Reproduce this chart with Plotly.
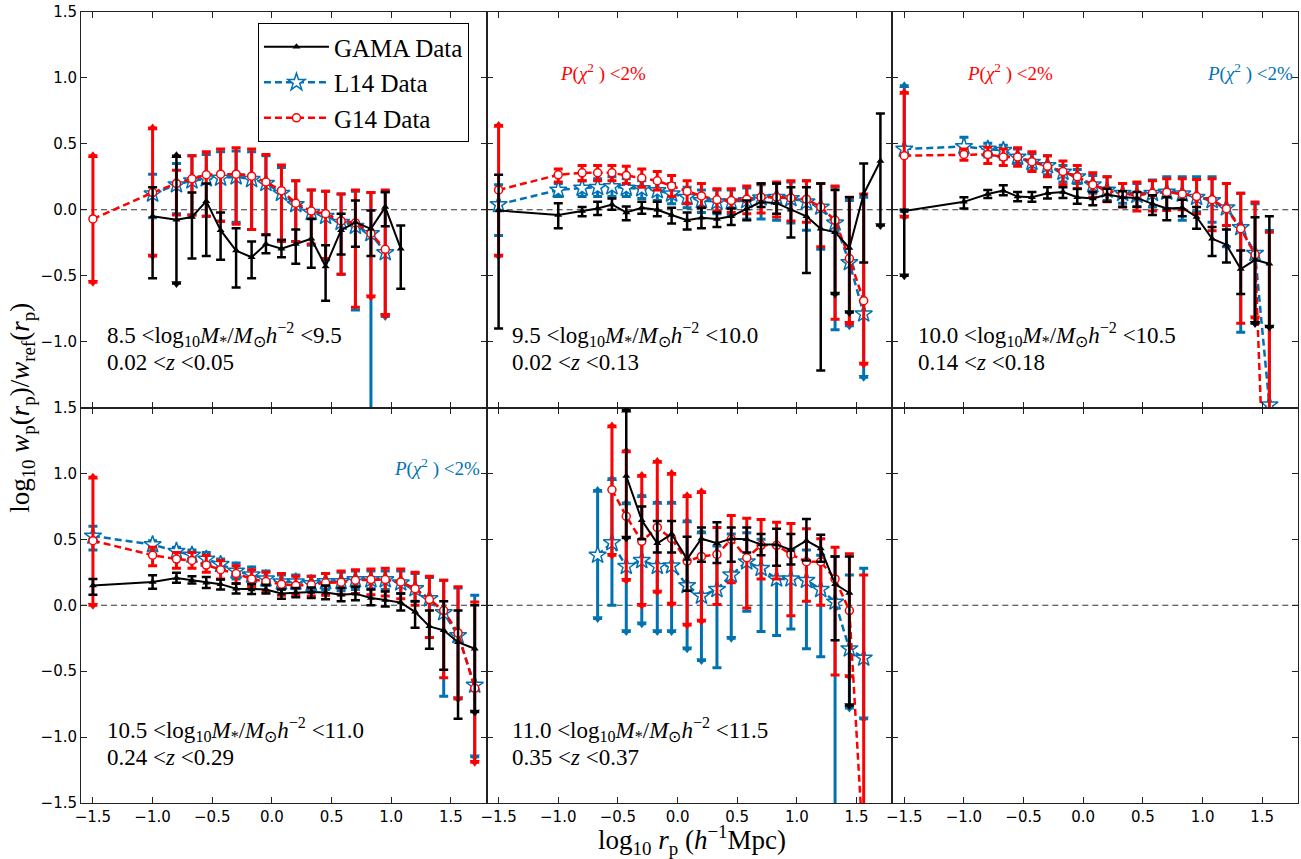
import plotly.graph_objects as go
from plotly.subplots import make_subplots

N = None
# common log10 rp bin centres
X = [-1.5, -1.0, -0.8, -0.67, -0.55, -0.43, -0.3, -0.17, -0.05, 0.08, 0.2, 0.33,
     0.45, 0.58, 0.7, 0.83, 0.95, 1.08, 1.2, 1.32, 1.44, 1.56, 1.7]

XTICKS = [-1.5, -1.0, -0.5, 0.0, 0.5, 1.0, 1.5]
YTICKS = [-1.5, -1.0, -0.5, 0.0, 0.5, 1.0, 1.5]

# ---------------- Panel 1 ----------------
P1_GAMA_Y  = [N, -0.05, -0.075, -0.055, 0.065, -0.155, -0.31, -0.36, -0.26, -0.295, -0.26, -0.22, -0.43, -0.155, -0.095, -0.145, 0.02, -0.295, N, N, N, N, N]
P1_GAMA_HI = [N, 0.17, 0.41, 0.13, 0.2, -0.02, -0.14, -0.24, -0.19, -0.23, -0.15, -0.07, -0.27, -0.03, 0.07, -0.005, 0.135, -0.12, N, N, N, N, N]
P1_GAMA_LO = [N, -0.52, -0.56, -0.37, -0.35, -0.38, -0.59, -0.52, -0.33, -0.36, -0.41, -0.44, -0.69, -0.34, -0.28, -0.35, -0.125, -0.60, N, N, N, N, N]
P1_GAMA_UP = [2]
P1_GAMA_DN = [2]

P1_L14_Y  = [N, 0.12, 0.19, 0.22, 0.235, 0.24, 0.25, 0.23, 0.20, 0.125, 0.04, -0.02, -0.05, -0.095, -0.125, -0.18, -0.325, N, N, N, N, N, N]
P1_L14_HI = [N, 0.27, 0.35, 0.41, 0.42, 0.44, 0.445, 0.44, 0.41, 0.32, 0.22, 0.15, 0.14, 0.12, 0.14, 0.13, 0.135, N, N, N, N, N, N]
P1_L14_LO = [N, -0.06, -0.03, -0.04, -0.05, -0.085, -0.095, -0.15, -0.19, -0.23, -0.24, -0.27, -0.38, -0.49, -0.76, -2.5, -0.81, N, N, N, N, N, N]
P1_L14_UP = []
P1_L14_DN = [16]

P1_G14_Y  = [-0.07, 0.13, 0.20, 0.235, 0.265, 0.27, 0.27, 0.255, 0.21, 0.145, 0.05, -0.01, -0.03, -0.085, -0.10, -0.18, -0.30, N, N, N, N, N, N]
P1_G14_HI = [0.41, 0.62, 0.30, 0.41, 0.44, 0.46, 0.47, 0.46, 0.42, 0.34, 0.22, 0.15, 0.14, 0.12, 0.15, 0.13, 0.15, N, N, N, N, N, N]
P1_G14_LO = [-0.55, -0.35, -0.04, -0.04, -0.05, -0.09, -0.11, -0.15, -0.19, -0.24, -0.24, -0.26, -0.37, -0.49, -0.74, -0.66, -0.80, N, N, N, N, N, N]
P1_G14_UP = [0, 1]
P1_G14_DN = [0, 1, 15, 16]

# ---------------- Panel 2 ----------------
P2_GAMA_Y  = [-0.005, -0.04, -0.01, 0.01, 0.04, -0.02, 0.015, 0.0, -0.04, -0.08, -0.06, -0.07, -0.05, 0.01, 0.06, 0.05, 0.0, -0.05, -0.145, -0.17, -0.29, 0.12, 0.37]
P2_GAMA_HI = [0.265, 0.05, 0.02, 0.06, 0.085, 0.025, 0.06, 0.06, 0.015, -0.02, 0.015, -0.02, 0.01, 0.07, 0.2, 0.2, 0.17, 0.17, 0.2, 0.15, 0.095, 0.35, 0.73]
P2_GAMA_LO = [-0.9, -0.14, -0.05, -0.04, 0.0, -0.08, -0.03, -0.05, -0.105, -0.15, -0.14, -0.13, -0.115, -0.08, 0.02, -0.03, -0.21, -0.48, -1.22, -0.64, -0.78, -0.40, -0.12]
P2_GAMA_UP = []
P2_GAMA_DN = [19, 20, 22]

P2_L14_Y  = [0.04, 0.15, 0.165, 0.17, 0.175, 0.165, 0.16, 0.145, 0.12, 0.095, 0.07, 0.06, 0.06, 0.07, 0.09, 0.095, 0.085, 0.06, 0.02, -0.10, -0.40, -0.79, N]
P2_L14_HI = [0.19, 0.2, 0.22, 0.235, 0.25, 0.235, 0.22, 0.21, 0.2, 0.17, 0.15, 0.15, 0.15, 0.165, 0.19, 0.2, 0.21, 0.22, 0.2, 0.17, 0.07, 0.095, N]
P2_L14_LO = [-0.195, 0.1, 0.1, 0.1, 0.1, 0.1, 0.085, 0.07, 0.045, 0.015, -0.02, -0.03, -0.04, -0.07, -0.07, -0.08, -0.1, -0.155, -0.30, -0.91, -0.88, -1.27, N]
P2_L14_UP = []
P2_L14_DN = [20, 21]

P2_G14_Y  = [0.15, 0.265, 0.28, 0.28, 0.28, 0.26, 0.24, 0.22, 0.18, 0.14, 0.105, 0.075, 0.07, 0.08, 0.095, 0.095, 0.09, 0.08, 0.02, -0.08, -0.37, -0.69, N]
P2_G14_HI = [0.64, 0.31, 0.335, 0.335, 0.335, 0.33, 0.31, 0.29, 0.26, 0.22, 0.2, 0.16, 0.16, 0.18, 0.2, 0.21, 0.22, 0.22, 0.2, 0.18, 0.095, 0.12, N]
P2_G14_LO = [-0.35, 0.21, 0.22, 0.22, 0.22, 0.2, 0.17, 0.15, 0.1, 0.045, 0.015, -0.01, -0.02, -0.03, -0.025, -0.055, -0.085, -0.095, -0.28, -0.83, -0.86, -1.17, N]
P2_G14_UP = [0]
P2_G14_DN = [0, 20, 21]

# ---------------- Panel 3 ----------------
P3_GAMA_Y  = [-0.01, 0.06, 0.12, 0.145, 0.10, 0.095, 0.125, 0.135, 0.095, 0.085, 0.115, 0.095, 0.09, 0.045, 0.01, 0.015, -0.055, -0.22, -0.265, -0.45, -0.38, -0.41, N]
P3_GAMA_HI = [0.0, 0.095, 0.15, 0.185, 0.135, 0.135, 0.17, 0.17, 0.16, 0.135, 0.16, 0.14, 0.135, 0.11, 0.095, 0.075, 0.02, -0.13, -0.15, -0.31, -0.056, -0.05, N]
P3_GAMA_LO = [-0.5, 0.01, 0.09, 0.11, 0.065, 0.06, 0.085, 0.09, 0.045, 0.035, 0.06, 0.02, 0.02, -0.04, -0.08, -0.05, -0.145, -0.35, -0.40, -0.64, -0.86, -0.89, N]
P3_GAMA_UP = []
P3_GAMA_DN = [0, 20, 21]

P3_L14_Y  = [0.46, 0.48, 0.46, 0.45, 0.40, 0.36, 0.335, 0.285, 0.25, 0.19, 0.15, 0.125, 0.11, 0.125, 0.135, 0.12, 0.095, 0.07, 0.015, -0.135, -0.33, -1.48, N]
P3_L14_HI = [0.94, 0.55, 0.505, 0.49, 0.46, 0.425, 0.41, 0.335, 0.305, 0.26, 0.25, 0.2, 0.2, 0.225, 0.25, 0.25, 0.25, 0.25, 0.2, 0.125, 0.045, -0.157, N]
P3_L14_LO = [-0.01, 0.42, 0.40, 0.385, 0.35, 0.295, 0.265, 0.21, 0.2, 0.125, 0.07, 0.05, 0.025, 0.02, 0.01, -0.08, -0.015, -0.095, -0.28, -0.93, -0.86, -5.0, N]
P3_L14_UP = [0]
P3_L14_DN = [0, 20]

P3_G14_Y  = [0.41, 0.42, 0.42, 0.40, 0.40, 0.365, 0.33, 0.29, 0.25, 0.19, 0.145, 0.12, 0.115, 0.125, 0.133, 0.12, 0.10, 0.076, 0.008, -0.144, -0.34, -3.2, N]
P3_G14_HI = [0.89, 0.46, 0.475, 0.46, 0.47, 0.44, 0.41, 0.37, 0.335, 0.28, 0.25, 0.2, 0.21, 0.22, 0.235, 0.235, 0.23, 0.235, 0.2, 0.126, 0.058, -0.17, N]
P3_G14_LO = [-0.055, 0.375, 0.35, 0.335, 0.33, 0.29, 0.25, 0.19, 0.16, 0.095, 0.06, 0.02, -0.01, -0.01, -0.005, 0.0, -0.03, -0.16, -0.12, -0.86, -0.82, -5.0, N]
P3_G14_UP = [0]
P3_G14_DN = [0, 20]

# ---------------- Panel 4 ----------------
P4_GAMA_Y  = [0.15, 0.177, 0.207, 0.19, 0.17, 0.16, 0.126, 0.12, 0.12, 0.09, 0.096, 0.10, 0.096, 0.08, 0.088, 0.055, 0.04, 0.02, -0.05, -0.16, -0.19, -0.28, -0.33]
P4_GAMA_HI = [0.2, 0.227, 0.247, 0.22, 0.215, 0.195, 0.165, 0.16, 0.155, 0.12, 0.13, 0.135, 0.15, 0.13, 0.14, 0.12, 0.105, 0.09, 0.03, -0.04, 0.03, -0.04, 0.0]
P4_GAMA_LO = [0.08, 0.126, 0.17, 0.165, 0.13, 0.12, 0.09, 0.085, 0.09, 0.05, 0.06, 0.055, 0.045, 0.03, 0.038, 0.0, -0.01, -0.04, -0.17, -0.33, -0.49, -0.86, -0.81]
P4_GAMA_UP = []
P4_GAMA_DN = [22]

P4_L14_Y  = [0.525, 0.46, 0.41, 0.38, 0.35, 0.31, 0.26, 0.23, 0.2, 0.177, 0.177, 0.164, 0.18, 0.18, 0.194, 0.194, 0.194, 0.17, 0.126, 0.05, -0.056, -0.23, -0.606]
P4_L14_HI = [0.60, 0.49, 0.44, 0.42, 0.40, 0.35, 0.32, 0.29, 0.26, 0.23, 0.23, 0.22, 0.24, 0.25, 0.26, 0.26, 0.26, 0.26, 0.24, 0.21, 0.19, 0.13, 0.076]
P4_L14_LO = [0.42, 0.42, 0.37, 0.34, 0.30, 0.27, 0.2, 0.17, 0.15, 0.126, 0.126, 0.11, 0.12, 0.11, 0.12, 0.126, 0.12, 0.09, 0.03, -0.245, -0.69, -0.71, -1.15]
P4_L14_UP = []
P4_L14_DN = [21, 22]

P4_G14_Y  = [0.49, 0.38, 0.35, 0.34, 0.305, 0.27, 0.24, 0.2, 0.18, 0.16, 0.15, 0.155, 0.17, 0.175, 0.19, 0.195, 0.195, 0.177, 0.126, 0.043, -0.04, -0.21, -0.63]
P4_G14_HI = [0.97, 0.44, 0.40, 0.40, 0.38, 0.34, 0.30, 0.27, 0.25, 0.24, 0.22, 0.22, 0.24, 0.26, 0.27, 0.275, 0.28, 0.275, 0.25, 0.22, 0.19, 0.14, 0.025]
P4_G14_LO = [0.0, 0.30, 0.28, 0.28, 0.25, 0.20, 0.165, 0.14, 0.10, 0.075, 0.075, 0.07, 0.075, 0.08, 0.09, 0.08, 0.07, 0.05, 0.0, -0.245, -0.55, -0.71, -1.19]
P4_G14_UP = [0]
P4_G14_DN = [0, 21, 22]

# ---------------- Panel 5 ----------------
P5_GAMA_Y  = [N, N, N, N, N, 0.98, 0.645, 0.47, 0.54, 0.35, 0.505, 0.47, 0.505, 0.50, 0.46, 0.46, 0.42, 0.49, 0.43, 0.16, 0.093, N, N]
P5_GAMA_HI = [N, N, N, N, N, 1.48, 0.75, 0.64, 0.64, 0.52, 0.59, 0.63, 0.59, 0.59, 0.54, 0.58, 0.54, 0.655, 0.535, 0.37, 0.37, N, N]
P5_GAMA_LO = [N, N, N, N, N, 0.51, 0.50, 0.40, 0.40, 0.11, 0.33, 0.32, 0.33, 0.40, 0.38, 0.30, 0.31, 0.34, 0.33, -0.265, -0.76, N, N]
P5_GAMA_UP = [5]
P5_GAMA_DN = [5, 20]

P5_L14_Y  = [N, N, N, 0.38, 0.475, 0.295, 0.34, 0.295, 0.30, 0.15, 0.07, 0.12, 0.23, 0.33, 0.28, 0.2, 0.2, 0.19, 0.12, 0.025, -0.33, -0.40, N]
P5_L14_HI = [N, N, N, 0.87, 0.96, 0.775, 0.83, 0.78, 0.78, 0.64, 0.555, 0.45, 0.54, 0.55, 0.5, 0.45, 0.42, 0.42, 0.38, 0.37, 0.23, 0.28, N]
P5_L14_LO = [N, N, N, -0.10, 0.0, -0.2, -0.14, -0.2, -0.2, -0.33, -0.42, -0.475, -0.25, -0.045, -0.2, -0.23, -0.18, -0.33, -0.39, -2.5, -0.78, -0.86, N]
P5_L14_UP = [3, 4, 5, 6, 7, 8, 9, 10]
P5_L14_DN = [3, 5, 6, 7, 8, 9, 10, 12, 20, 21]

P5_G14_Y  = [N, N, N, N, 0.876, 0.675, 0.485, 0.59, 0.505, 0.335, 0.37, 0.385, 0.5, 0.36, 0.455, 0.455, 0.385, 0.33, 0.33, 0.2, -0.04, -1.9, N]
P5_G14_HI = [N, N, N, N, 1.36, 1.17, 0.985, 1.09, 1.0, 0.83, 0.86, 0.59, 0.68, 0.66, 0.65, 0.63, 0.62, 0.58, 0.505, 0.44, 0.39, 0.23, N]
P5_G14_LO = [N, N, N, N, 0.38, 0.19, 0.0, 0.1, 0.01, -0.15, -0.12, 0.005, 0.17, -0.02, 0.2, 0.2, -0.08, 0.03, 0.0, -0.53, -0.54, -3.0, N]
P5_G14_UP = [4, 5, 6, 7, 8, 9, 10]
P5_G14_DN = [4, 5, 6, 7, 8, 9, 10, 20]

MASS_LABELS = ["8.5 &lt;log<sub>10</sub><i>M</i><sub>*</sub>/<i>M</i><sub>⊙</sub><i>h</i><sup>−2</sup> &lt;9.5",
               "9.5 &lt;log<sub>10</sub><i>M</i><sub>*</sub>/<i>M</i><sub>⊙</sub><i>h</i><sup>−2</sup> &lt;10.0",
               "10.0 &lt;log<sub>10</sub><i>M</i><sub>*</sub>/<i>M</i><sub>⊙</sub><i>h</i><sup>−2</sup> &lt;10.5",
               "10.5 &lt;log<sub>10</sub><i>M</i><sub>*</sub>/<i>M</i><sub>⊙</sub><i>h</i><sup>−2</sup> &lt;11.0",
               "11.0 &lt;log<sub>10</sub><i>M</i><sub>*</sub>/<i>M</i><sub>⊙</sub><i>h</i><sup>−2</sup> &lt;11.5"]
Z_LABELS = ["0.02 &lt;<i>z</i> &lt;0.05", "0.02 &lt;<i>z</i> &lt;0.13", "0.14 &lt;<i>z</i> &lt;0.18",
            "0.24 &lt;<i>z</i> &lt;0.29", "0.35 &lt;<i>z</i> &lt;0.37"]
PCHI = "<i>P</i>(<i>χ</i><sup>2</sup> ) &lt;2%"
# (panel index, colour key, x fraction)
PCHI_FLAGS = [(1, "G14", 0.175), (2, "G14", 0.18), (2, "L14", 0.77), (3, "L14", 0.767)]

BLACK = "#000000"
BLUE = "#0072B2"
RED = "#FF0000"
SERIF = "Liberation Serif"
SANS = "DejaVu Sans"

PANELS = [
    (1, 1, (P1_GAMA_Y, P1_GAMA_HI, P1_GAMA_LO, P1_GAMA_UP, P1_GAMA_DN),
           (P1_L14_Y, P1_L14_HI, P1_L14_LO, P1_L14_UP, P1_L14_DN),
           (P1_G14_Y, P1_G14_HI, P1_G14_LO, P1_G14_UP, P1_G14_DN)),
    (1, 2, (P2_GAMA_Y, P2_GAMA_HI, P2_GAMA_LO, P2_GAMA_UP, P2_GAMA_DN),
           (P2_L14_Y, P2_L14_HI, P2_L14_LO, P2_L14_UP, P2_L14_DN),
           (P2_G14_Y, P2_G14_HI, P2_G14_LO, P2_G14_UP, P2_G14_DN)),
    (1, 3, (P3_GAMA_Y, P3_GAMA_HI, P3_GAMA_LO, P3_GAMA_UP, P3_GAMA_DN),
           (P3_L14_Y, P3_L14_HI, P3_L14_LO, P3_L14_UP, P3_L14_DN),
           (P3_G14_Y, P3_G14_HI, P3_G14_LO, P3_G14_UP, P3_G14_DN)),
    (2, 1, (P4_GAMA_Y, P4_GAMA_HI, P4_GAMA_LO, P4_GAMA_UP, P4_GAMA_DN),
           (P4_L14_Y, P4_L14_HI, P4_L14_LO, P4_L14_UP, P4_L14_DN),
           (P4_G14_Y, P4_G14_HI, P4_G14_LO, P4_G14_UP, P4_G14_DN)),
    (2, 2, (P5_GAMA_Y, P5_GAMA_HI, P5_GAMA_LO, P5_GAMA_UP, P5_GAMA_DN),
           (P5_L14_Y, P5_L14_HI, P5_L14_LO, P5_L14_UP, P5_L14_DN),
           (P5_G14_Y, P5_G14_HI, P5_G14_LO, P5_G14_UP, P5_G14_DN)),
]

fig = make_subplots(rows=2, cols=3, horizontal_spacing=0, vertical_spacing=0)

STYLE = {
    "GAMA": dict(color=BLACK, dash="solid", lw=2, symbol="triangle-up", msize=7, mfill=BLACK, mline=0,
                 name="GAMA Data", rank=1, ethick=2.5),
    "L14": dict(color=BLUE, dash="7px,4px", lw=2.5, symbol="star", msize=13, mfill="white", mline=1.5,
                name="L14 Data", rank=2, ethick=3),
    "G14": dict(color=RED, dash="7px,4px", lw=2.5, symbol="circle", msize=8, mfill="white", mline=1.5,
                name="G14 Data", rank=3, ethick=3),
}


def add_series(row, col, key, data, first):
    y, hi, lo, up, dn = data
    st = STYLE[key]
    idx = [i for i in range(len(y)) if y[i] is not None]
    xs = [X[i] for i in idx]
    ys = [y[i] for i in idx]
    eplus = [hi[i] - y[i] for i in idx]
    eminus = [y[i] - lo[i] for i in idx]
    fig.add_trace(go.Scatter(
        x=xs, y=ys, mode="lines+markers", name=st["name"], legendgroup=key,
        showlegend=first, legendrank=st["rank"],
        line=dict(color=st["color"], width=st["lw"], dash=st["dash"]),
        marker=dict(symbol=st["symbol"], size=st["msize"], color=st["mfill"],
                    line=dict(color=st["color"], width=st["mline"])),
        error_y=dict(type="data", symmetric=False, array=eplus, arrayminus=eminus,
                     color=st["color"], thickness=st["ethick"], width=4.5),
    ), row=row, col=col)
    # arrow heads on limit-type error bars
    ax, ay, asym = [], [], []
    for i in up:
        ax.append(X[i]); ay.append(hi[i]); asym.append("triangle-up")
    for i in dn:
        ax.append(X[i]); ay.append(lo[i]); asym.append("triangle-down")
    if ax:
        fig.add_trace(go.Scatter(x=ax, y=ay, mode="markers", showlegend=False, hoverinfo="skip",
                                 marker=dict(symbol=asym, size=9, color=st["color"], line=dict(width=0))),
                      row=row, col=col)


for p, (row, col, gama, l14, g14) in enumerate(PANELS):
    first = (p == 0)
    add_series(row, col, "L14", l14, first)
    add_series(row, col, "G14", g14, first)
    add_series(row, col, "GAMA", gama, first)

# axes
for r in (1, 2):
    for c in (1, 2, 3):
        fig.update_xaxes(row=r, col=c, range=[-1.6, 1.8], tickvals=XTICKS, tickformat=".1f",
                         showticklabels=(r == 2), ticks="inside", ticklen=6, tickwidth=1, tickcolor="#222",
                         showline=True, linecolor="#222", linewidth=1, mirror="ticks",
                         showgrid=False, zeroline=False,
                         tickfont=dict(family=SANS, size=15, color="black"))
        ytext = ["" if (r == 1 and v == -1.5) else f"{v:.1f}".replace("-", "−") for v in YTICKS]
        fig.update_yaxes(row=r, col=c, range=[-1.5, 1.5], tickvals=YTICKS, ticktext=ytext,
                         showticklabels=(c == 1), ticks="inside", ticklen=6, tickwidth=1, tickcolor="#222",
                         showline=True, linecolor="#222", linewidth=1, mirror="ticks",
                         showgrid=False, zeroline=False,
                         tickfont=dict(family=SANS, size=15, color="black"))

# dashed zero line in every panel
for k in range(1, 7):
    sx = "x" if k == 1 else f"x{k}"
    sy = "y" if k == 1 else f"y{k}"
    fig.add_shape(type="line", xref=f"{sx} domain", yref=sy, x0=0, x1=1, y0=0, y1=0,
                  line=dict(color="#333", width=1.2, dash="6px,4px"), layer="below")

# panel text labels
for p in range(5):
    k = p + 1
    sx = "x" if k == 1 else f"x{k}"
    sy = "y" if k == 1 else f"y{k}"
    fig.add_annotation(xref=f"{sx} domain", yref=f"{sy} domain", x=0.058, y=0.185,
                       text=MASS_LABELS[p], showarrow=False, xanchor="left", yanchor="middle",
                       font=dict(family=SERIF, size=23, color="black"))
    fig.add_annotation(xref=f"{sx} domain", yref=f"{sy} domain", x=0.058, y=0.115,
                       text=Z_LABELS[p], showarrow=False, xanchor="left", yanchor="middle",
                       font=dict(family=SERIF, size=23, color="black"))

for p, key, xf in PCHI_FLAGS:
    k = p + 1
    sx = "x" if k == 1 else f"x{k}"
    sy = "y" if k == 1 else f"y{k}"
    fig.add_annotation(xref=f"{sx} domain", yref=f"{sy} domain", x=xf, y=0.848,
                       text=PCHI, showarrow=False, xanchor="left", yanchor="middle",
                       font=dict(family=SERIF, size=19, color=STYLE[key]["color"]))

# axis titles
fig.add_annotation(xref="paper", yref="paper", x=-0.049, y=0.5, textangle=-90,
                   text="log<sub>10</sub> <i>w</i><sub>p</sub>(<i>r</i><sub>p</sub>)/<i>w</i><sub>ref</sub>(<i>r</i><sub>p</sub>)",
                   showarrow=False, xanchor="center", yanchor="middle",
                   font=dict(family=SERIF, size=27, color="black"))
fig.add_annotation(xref="paper", yref="paper", x=0.502, y=-0.047,
                   text="log<sub>10</sub> <i>r</i><sub>p</sub> (<i>h</i><sup>−1</sup>Mpc)",
                   showarrow=False, xanchor="center", yanchor="middle",
                   font=dict(family=SERIF, size=27, color="black"))

fig.update_layout(
    width=1301, height=859,
    margin=dict(l=81, r=3, t=12, b=56),
    paper_bgcolor="white", plot_bgcolor="white",
    legend=dict(x=0.1454, y=0.986, xanchor="left", yanchor="top",
                bgcolor="white", bordercolor="black", borderwidth=1,
                font=dict(family=SERIF, size=25, color="black"),
                itemwidth=65, traceorder="normal"),
)

fig.write_html("out.html", config={"displayModeBar": False},
               post_script="document.body.style.margin='0px';")
